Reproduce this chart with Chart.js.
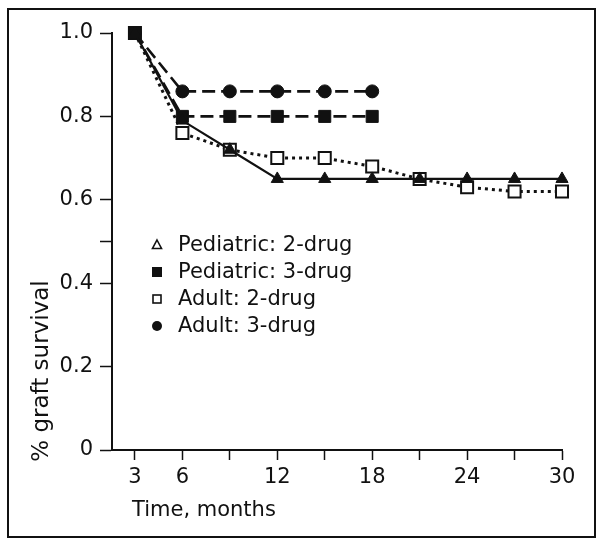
<!DOCTYPE html>
<html>
<head>
<meta charset="utf-8">
<script src="https://cdn.jsdelivr.net/npm/chart.js@4.4.1/dist/chart.umd.min.js"></script>
<style>
html,body{margin:0;padding:0;background:#fff;}
#wrap{position:relative;width:600px;height:544px;}
#frame{position:absolute;left:7px;top:8px;width:589px;height:530px;box-sizing:border-box;border:2px solid #111;pointer-events:none;}
canvas{display:block;}
</style>
</head>
<body>
<div id="wrap">
  <canvas id="chart" width="600" height="544"></canvas>
  <div id="frame"></div>
</div>
<script>
// data
const months = [3,6,9,12,15,18,21,24,27,30];
const ped2   = [1.0,0.79,0.72,0.65,0.65,0.65,0.65,0.65,0.65,0.65];
const ped3   = [1.0,0.80,0.80,0.80,0.80,0.80];
const adult2 = [1.0,0.76,0.72,0.70,0.70,0.68,0.65,0.63,0.62,0.62];
const adult3 = [1.0,0.86,0.86,0.86,0.86,0.86];

const xTicks = [3,6,9,12,15,18,21,24,27,30];
const xLabeled = [3,6,12,18,24,30];
const yTicks = [0,0.2,0.4,0.5,0.6,0.8,1.0];
const yLabels = {0:'0',0.2:'0.2',0.4:'0.4',0.6:'0.6',0.8:'0.8',1:'1.0'};

const seriesNames = ['Pediatric: 2-drug','Pediatric: 3-drug','Adult: 2-drug','Adult: 3-drug'];
const xTitle = 'Time, months';
const yTitle = '% graft survival';

const ink = '#111';
const FONT = '"DejaVu Sans", sans-serif';
const pts = arr => arr.map((v,i)=>({x:months[i],y:v}));

// legend + axis titles drawn straight on the canvas
const overlay = {
  id:'overlay',
  afterDraw(chart){
    const c = chart.ctx;
    c.save();
    c.fillStyle = ink; c.strokeStyle = ink;
    // y title
    c.font = '23px '+FONT;
    c.textBaseline = 'middle';
    c.save();
    c.translate(42,371); c.rotate(-Math.PI/2);
    c.textAlign = 'center';
    c.fillText(yTitle,0,0);
    c.restore();
    // x title
    c.font = '21px '+FONT;
    c.textAlign = 'left';
    c.fillText(xTitle,132,511);

    // legend
    const rows = [245,272,299,326];
    const mx = 157, tx = 178;
    chart.data.datasets.forEach((ds,i)=>{
      const y = rows[i];
      c.lineWidth = 1.6;
      c.beginPath();
      if(i===0){ // open triangle
        c.moveTo(mx,y-5); c.lineTo(mx+4.5,y+3.5); c.lineTo(mx-4.5,y+3.5); c.closePath(); c.stroke();
      }else if(i===1){
        c.fillRect(mx-5,y-5,10,10);
      }else if(i===2){
        c.strokeRect(mx-4,y-4,8,8);
      }else{
        c.arc(mx,y,5,0,Math.PI*2); c.fill();
      }
      c.font = '21px '+FONT;
      c.fillText(ds.label,tx,y+1);
    });
    c.restore();
  }
};

new Chart(document.getElementById('chart'),{
  type:'line',
  data:{datasets:[
    {label:seriesNames[0],data:pts(ped2),borderColor:ink,borderWidth:2.2,
     pointStyle:'triangle',pointRadius:7,pointBackgroundColor:ink,pointBorderColor:ink,pointBorderWidth:1},
    {label:seriesNames[1],data:pts(ped3),borderColor:ink,borderWidth:2.6,borderDash:[13,6],
     pointStyle:'rect',pointRadius:8.5,pointBackgroundColor:ink,pointBorderColor:ink,pointBorderWidth:1},
    {label:seriesNames[2],data:pts(adult2),borderColor:ink,borderWidth:3,borderDash:[3,4],
     pointStyle:'rect',pointRadius:8.5,pointBackgroundColor:'#fff',pointBorderColor:ink,pointBorderWidth:2},
    {label:seriesNames[3],data:pts(adult3),borderColor:ink,borderWidth:2.6,borderDash:[13,6],
     pointStyle:'circle',pointRadius:6.5,pointBackgroundColor:ink,pointBorderColor:ink,pointBorderWidth:1}
  ]},
  options:{
    responsive:false,animation:false,devicePixelRatio:1,
    layout:{padding:{left:0,top:33,right:38,bottom:0}},
    elements:{line:{tension:0,fill:false},point:{hoverRadius:7}},
    datasets:{line:{clip:false}},
    plugins:{legend:{display:false},tooltip:{enabled:false}},
    scales:{
      x:{type:'linear',min:1.55,max:30,
        afterFit:s=>{s.height=94;},
        afterBuildTicks:s=>{s.ticks=xTicks.map(v=>({value:v}));},
        grid:{drawOnChartArea:false,drawTicks:true,tickLength:10,tickColor:ink,tickWidth:1.5},
        border:{display:true,color:ink,width:2},
        ticks:{autoSkip:false,maxRotation:0,padding:5,color:ink,font:{family:FONT,size:21},
          callback:v=>xLabeled.includes(v)?String(v):''}},
      y:{min:0,max:1,
        afterFit:s=>{s.width=112;},
        afterBuildTicks:s=>{s.ticks=yTicks.map(v=>({value:v}));},
        grid:{drawOnChartArea:false,drawTicks:true,tickLength:12,tickColor:ink,tickWidth:1.5},
        border:{display:true,color:ink,width:2},
        ticks:{autoSkip:false,padding:7,color:ink,font:{family:FONT,size:21},
          callback:v=>yLabels[v]!==undefined?yLabels[v]:''}}
    }
  },
  plugins:[overlay]
});
</script>
</body>
</html>
